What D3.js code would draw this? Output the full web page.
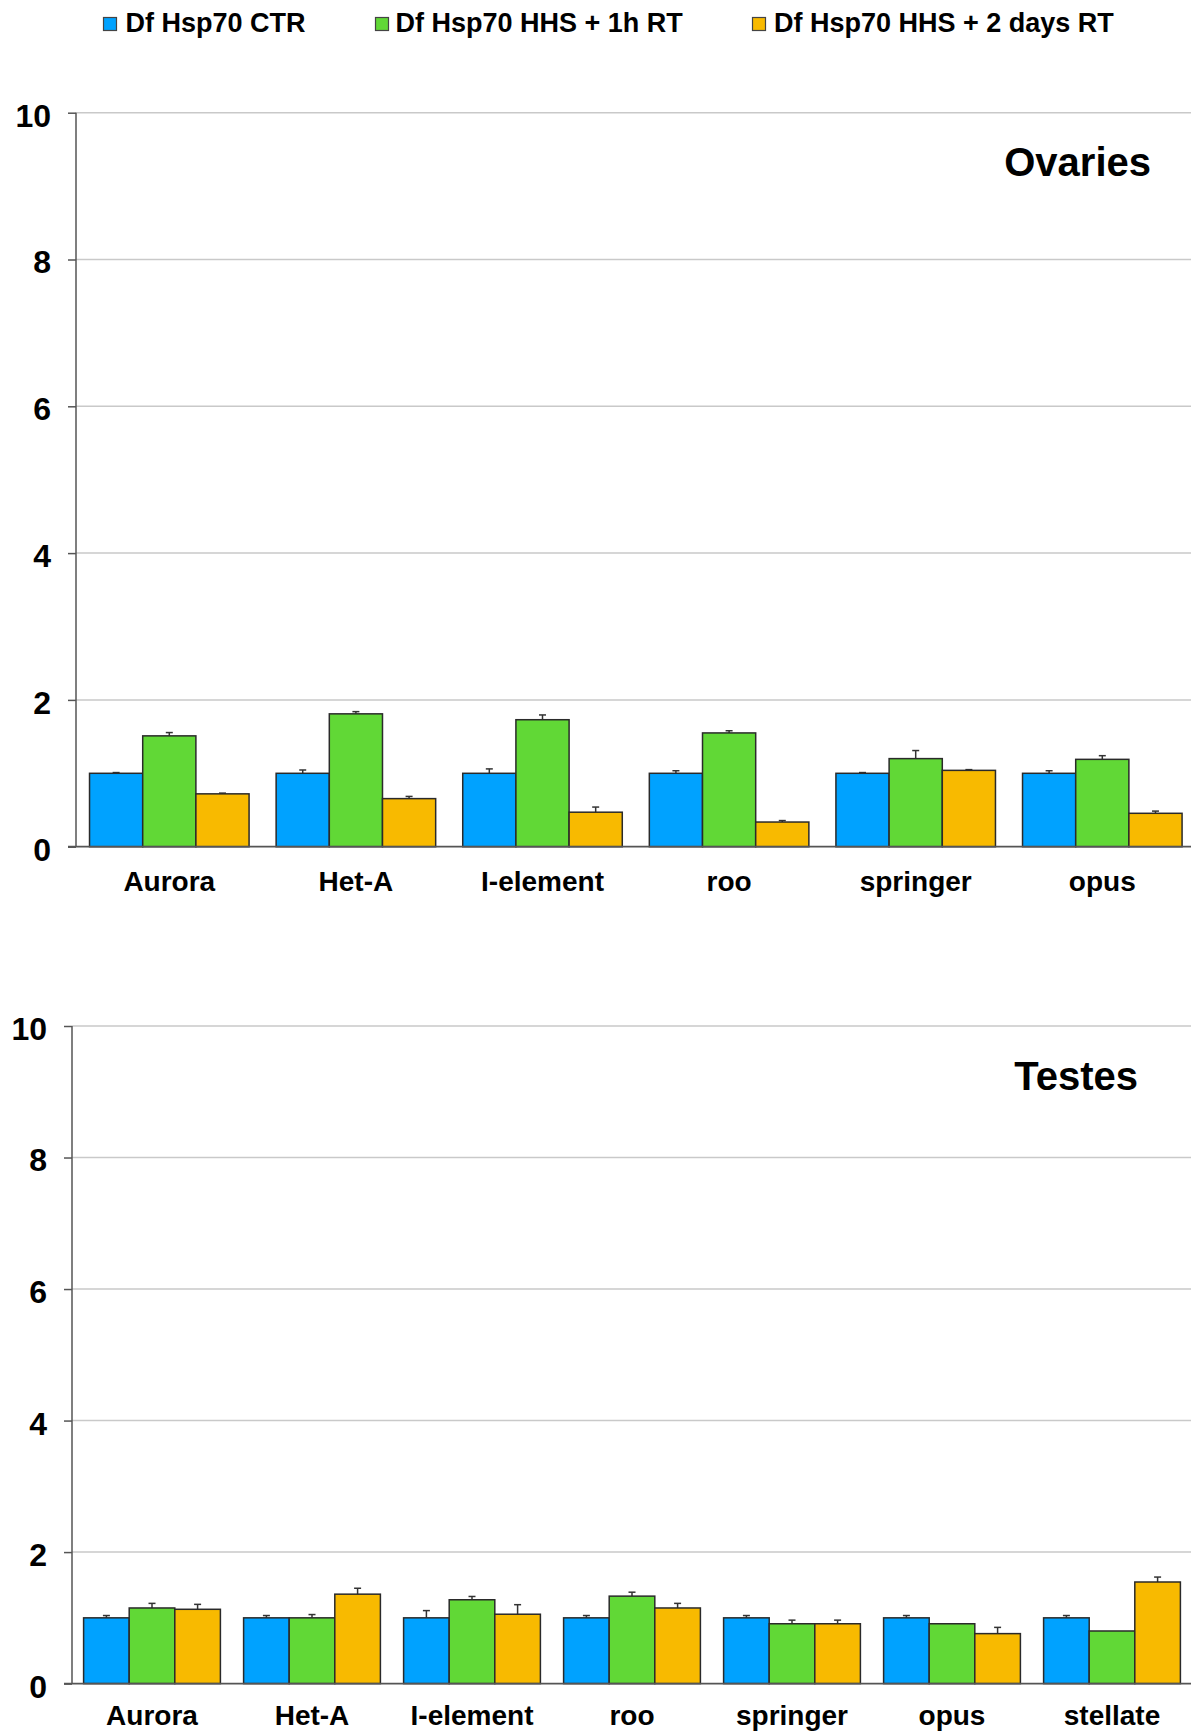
<!DOCTYPE html>
<html>
<head>
<meta charset="utf-8">
<script src="https://cdn.jsdelivr.net/npm/d3@7"></script>
<style>
  html, body { margin: 0; padding: 0; background: #fff; }
  svg { display: block; font-family: "Liberation Sans", Arial, Helvetica, sans-serif; font-weight: bold; }
</style>
</head>
<body>
<svg id="chart" width="1191" height="1732"></svg>
<script>
// Series (treatment conditions)
const seriesNames = ["Df Hsp70 CTR", "Df Hsp70 HHS + 1h RT", "Df Hsp70 HHS + 2 days RT"];
const seriesColors = ["#00A2FF", "#61D836", "#F8BA00"];

// Ovaries: transposable elements and relative expression
const ovaryCategories = ["Aurora", "Het-A", "I-element", "roo", "springer", "opus"];
const ovaryCTR   = [1.00, 1.00, 1.00, 1.00, 1.00, 1.00];
const ovaryHHS1h = [1.51, 1.81, 1.73, 1.55, 1.20, 1.19];
const ovaryHHS2d = [0.72, 0.655, 0.47, 0.336, 1.04, 0.455];
const ovaryErrCTR   = [0.01, 0.045, 0.06, 0.035, 0.01, 0.035];
const ovaryErrHHS1h = [0.045, 0.03, 0.065, 0.03, 0.11, 0.05];
const ovaryErrHHS2d = [0.01, 0.03, 0.07, 0.02, 0.01, 0.03];

// Testes
const testesCategories = ["Aurora", "Het-A", "I-element", "roo", "springer", "opus", "stellate"];
const testesCTR   = [1.00, 1.00, 1.00, 1.00, 1.00, 1.00, 1.00];
const testesHHS1h = [1.15, 1.00, 1.275, 1.33, 0.91, 0.91, 0.80];
const testesHHS2d = [1.13, 1.36, 1.055, 1.15, 0.91, 0.76, 1.545];
const testesErrCTR   = [0.035, 0.035, 0.11, 0.035, 0.035, 0.035, 0.035];
const testesErrHHS1h = [0.07, 0.05, 0.05, 0.06, 0.055, 0, 0];
const testesErrHHS2d = [0.075, 0.09, 0.145, 0.07, 0.055, 0.095, 0.075];

const yTicks = [0, 2, 4, 6, 8, 10];

const svg = d3.select("#chart");

// Legend
const legendItems = [
  { name: seriesNames[0], color: seriesColors[0], sx: 103.5, tx: 125.5 },
  { name: seriesNames[1], color: seriesColors[1], sx: 375.5, tx: 395.5 },
  { name: seriesNames[2], color: seriesColors[2], sx: 752.5, tx: 774 }
];
const legend = svg.append("g");
legend.selectAll("rect").data(legendItems).join("rect")
  .attr("x", d => d.sx).attr("y", 17.5).attr("width", 13).attr("height", 13)
  .attr("fill", d => d.color).attr("stroke", "#444").attr("stroke-width", 1.2);
legend.selectAll("text").data(legendItems).join("text")
  .attr("x", d => d.tx).attr("y", 32.3)
  .attr("font-size", 27).attr("fill", "#000")
  .text(d => d.name);

function drawPanel(cfg) {
  const g = svg.append("g");
  const x0 = d3.scaleBand().domain(cfg.categories)
    .range([cfg.left, cfg.left + cfg.step * cfg.categories.length])
    .paddingInner(0.145).paddingOuter(0.0725);
  const x1 = d3.scaleBand().domain(d3.range(3)).range([0, x0.bandwidth()]).padding(0);
  const y = d3.scaleLinear().domain([0, 10]).range([cfg.bottom, cfg.top]);

  // Gridlines
  g.selectAll("line.grid").data(yTicks.filter(t => t > 0)).join("line")
    .attr("class", "grid")
    .attr("x1", cfg.left).attr("x2", 1191)
    .attr("y1", d => y(d)).attr("y2", d => y(d))
    .attr("stroke", "#c9c9c9").attr("stroke-width", 1.5);

  // Y axis
  const yAxis = d3.axisLeft(y).tickValues(yTicks).tickSize(8).tickPadding(17);
  const ya = g.append("g").attr("transform", `translate(${cfg.left},0)`).call(yAxis);
  ya.select(".domain").attr("stroke", "#555").attr("stroke-width", 1.5)
    .attr("d", `M0,${cfg.top}V${cfg.bottom}`);
  ya.selectAll(".tick line").attr("stroke", "#555").attr("stroke-width", 1.5);
  ya.selectAll(".tick text")
    .attr("font-size", 32).attr("font-weight", "bold").attr("fill", "#000")
    .attr("font-family", "'Liberation Sans', Arial, sans-serif")
    .attr("dy", "0.42em");

  // Bars
  const rows = cfg.categories.map((c, i) => ({
    cat: c,
    vals: cfg.values.map(s => s[i]),
    errs: cfg.errors.map(s => s[i])
  }));
  const groups = g.selectAll("g.grp").data(rows).join("g")
    .attr("class", "grp")
    .attr("transform", d => `translate(${x0(d.cat)},0)`);
  const cells = groups.selectAll("g.bar").data(d => d.vals.map((v, k) => ({ k, v, e: d.errs[k] })))
    .join("g").attr("class", "bar");

  // Error bars (upper only)
  cells.filter(d => d.e > 0).append("line")
    .attr("x1", d => x1(d.k) + x1.bandwidth() / 2).attr("x2", d => x1(d.k) + x1.bandwidth() / 2)
    .attr("y1", d => y(d.v)).attr("y2", d => y(d.v + d.e))
    .attr("stroke", "#333").attr("stroke-width", 1.5);
  cells.filter(d => d.e > 0).append("line")
    .attr("x1", d => x1(d.k) + x1.bandwidth() / 2 - 3.5).attr("x2", d => x1(d.k) + x1.bandwidth() / 2 + 3.5)
    .attr("y1", d => y(d.v + d.e)).attr("y2", d => y(d.v + d.e))
    .attr("stroke", "#333").attr("stroke-width", 1.5);

  cells.append("rect")
    .attr("x", d => x1(d.k)).attr("width", x1.bandwidth())
    .attr("y", d => y(d.v)).attr("height", d => y(0) - y(d.v))
    .attr("fill", d => seriesColors[d.k])
    .attr("stroke", "#2a2a2a").attr("stroke-width", 1.5);

  // Baseline
  g.append("line")
    .attr("x1", cfg.left - 8).attr("x2", 1191)
    .attr("y1", y(0)).attr("y2", y(0))
    .attr("stroke", "#555").attr("stroke-width", 1.8);

  // Category labels
  g.selectAll("text.cat").data(cfg.categories).join("text")
    .attr("class", "cat")
    .attr("x", d => x0(d) + x0.bandwidth() / 2)
    .attr("y", y(0) + cfg.labelGap)
    .attr("text-anchor", "middle").attr("font-size", 28).attr("fill", "#000")
    .text(d => d);

  // Panel title
  g.append("text")
    .attr("x", cfg.titleX).attr("y", cfg.titleY)
    .attr("text-anchor", "end").attr("font-size", 40).attr("fill", "#000")
    .text(cfg.title);
}

drawPanel({
  categories: ovaryCategories,
  values: [ovaryCTR, ovaryHHS1h, ovaryHHS2d],
  errors: [ovaryErrCTR, ovaryErrHHS1h, ovaryErrHHS2d],
  left: 76, step: 186.6, top: 112.7, bottom: 846.7, labelGap: 44,
  title: "Ovaries", titleX: 1151, titleY: 176
});

drawPanel({
  categories: testesCategories,
  values: [testesCTR, testesHHS1h, testesHHS2d],
  errors: [testesErrCTR, testesErrHHS1h, testesErrHHS2d],
  left: 72, step: 160, top: 1026, bottom: 1683.6, labelGap: 41,
  title: "Testes", titleX: 1138, titleY: 1090
});
</script>
</body>
</html>
